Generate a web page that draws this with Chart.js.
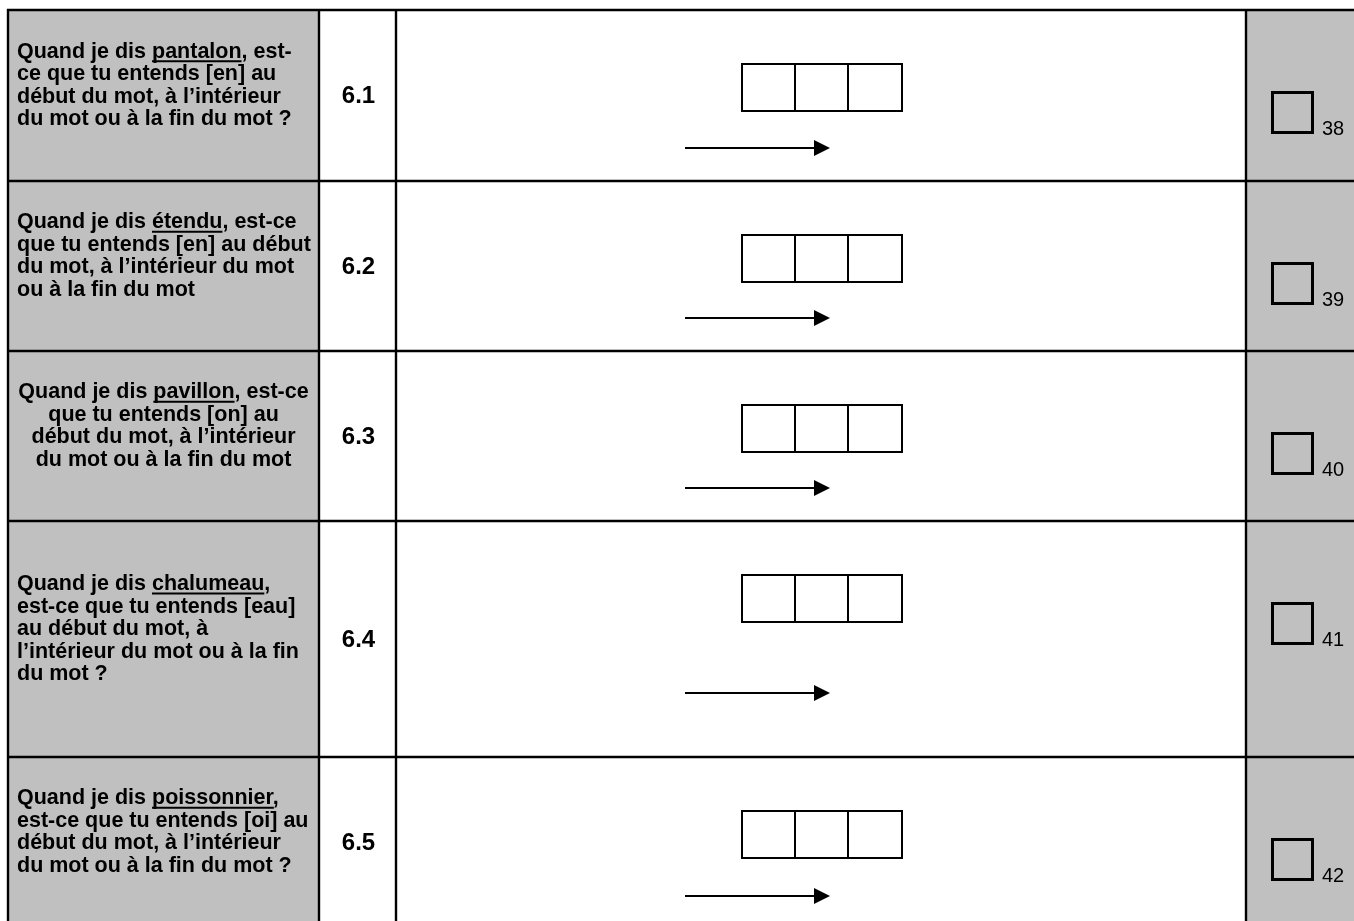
<!DOCTYPE html>
<html><head><meta charset="utf-8">
<script src="https://cdn.jsdelivr.net/npm/chart.js@4.4.1/dist/chart.umd.min.js"></script>
<style>html,body{margin:0;padding:0;background:#fff;overflow:hidden}canvas{display:block}</style>
</head><body>
<canvas id="c" width="1354" height="921"></canvas>
<script>
// ---- content ----
const items = ["6.1", "6.2", "6.3", "6.4", "6.5"];
const keywords = ["pantalon", "étendu", "pavillon", "chalumeau", "poissonnier"];
const questions = [
  ["Quand je dis pantalon, est-", "ce que tu entends [en] au", "début du mot, à l’intérieur", "du mot ou à la fin du mot ?"],
  ["Quand je dis étendu, est-ce", "que tu entends [en] au début", "du mot, à l’intérieur du mot", "ou à la fin du mot"],
  ["Quand je dis pavillon, est-ce", "que tu entends [on] au", "début du mot, à l’intérieur", "du mot ou à la fin du mot"],
  ["Quand je dis chalumeau,", "est-ce que tu entends [eau]", "au début du mot, à", "l’intérieur du mot ou à la fin", "du mot ?"],
  ["Quand je dis poissonnier,", "est-ce que tu entends [oi] au", "début du mot, à l’intérieur", "du mot ou à la fin du mot ?"]
];
const codes = ["38", "39", "40", "41", "42"];
const centeredText = [false, false, true, false, false];

// ---- layout (page units) ----
const rowEdges = [10, 181, 351, 521, 757, 927];
const colEdges = [8, 319, 396, 1246, 1356];
const arrowOffset = [138, 137, 137, 172, 139];
const GRAY = '#C0C0C0';
const QFONT = "bold 21.5px 'Liberation Sans', Arial, sans-serif";
const NFONT = "bold 24px 'Liberation Sans', Arial, sans-serif";
const CFONT = "20px 'Liberation Sans', Arial, sans-serif";
const LH = 22.5;

const formPlugin = {
  id: 'form',
  beforeDraw(chart) {
    const ctx = chart.ctx, sx = chart.scales.x, sy = chart.scales.y;
    const X = v => sx.getPixelForValue(v), Y = v => sy.getPixelForValue(v);
    ctx.save();
    ctx.fillStyle = '#fff';
    ctx.fillRect(0, 0, chart.width, chart.height);
    const nRows = items.length;
    // cell fills
    ctx.fillStyle = GRAY;
    ctx.fillRect(X(colEdges[0]), Y(rowEdges[0]), X(colEdges[1]) - X(colEdges[0]), Y(rowEdges[nRows]) - Y(rowEdges[0]));
    ctx.fillRect(X(colEdges[3]), Y(rowEdges[0]), X(colEdges[4]) - X(colEdges[3]), Y(rowEdges[nRows]) - Y(rowEdges[0]));
    // faint paragraph marks in question cells
    ctx.strokeStyle = '#d8d8d8';
    ctx.lineWidth = 1;
    // grid
    ctx.strokeStyle = '#000';
    ctx.lineWidth = 2.4;
    ctx.beginPath();
    rowEdges.forEach(r => { ctx.moveTo(X(colEdges[0]) - 1, Y(r)); ctx.lineTo(X(colEdges[4]), Y(r)); });
    colEdges.forEach(c => { ctx.moveTo(X(c), Y(rowEdges[0]) - 1); ctx.lineTo(X(c), Y(rowEdges[nRows]) + 1); });
    ctx.stroke();

    for (let i = 0; i < nRows; i++) {
      const top = rowEdges[i], bot = rowEdges[i + 1], mid = (top + bot) / 2;
      // question text
      const lines = questions[i];
      ctx.font = QFONT;
      ctx.fillStyle = '#000';
      ctx.textBaseline = 'alphabetic';
      const block = (lines.length + 1) * LH;
      const firstBase = mid - block / 2 + 18.5;
      lines.forEach((ln, k) => {
        const yb = Y(firstBase + k * LH);
        const w = ctx.measureText(ln).width;
        const x0 = centeredText[i] ? X((colEdges[0] + colEdges[1]) / 2) - w / 2 : X(17);
        ctx.textAlign = 'left';
        ctx.fillText(ln, x0, yb);
        const kw = keywords[i];
        const p = ln.indexOf(kw);
        if (k === 0 && p >= 0) {
          const xs = x0 + ctx.measureText(ln.slice(0, p)).width;
          const wk = ctx.measureText(kw).width;
          ctx.fillRect(xs, yb + 2.5, wk, 2);
        }
      });
      // item number
      ctx.font = NFONT;
      ctx.textAlign = 'center';
      ctx.textBaseline = 'middle';
      ctx.fillText(items[i], X((colEdges[1] + colEdges[2]) / 2 + 1), Y(mid + 1));
      // three boxes
      ctx.lineWidth = 2;
      ctx.strokeRect(X(742), Y(top + 54), X(902) - X(742), Y(top + 101) - Y(top + 54));
      ctx.beginPath();
      ctx.moveTo(X(795), Y(top + 54)); ctx.lineTo(X(795), Y(top + 101));
      ctx.moveTo(X(848), Y(top + 54)); ctx.lineTo(X(848), Y(top + 101));
      ctx.stroke();
      // arrow
      const ay = Y(top + arrowOffset[i]);
      ctx.lineWidth = 2;
      ctx.beginPath(); ctx.moveTo(X(685), ay); ctx.lineTo(X(816), ay); ctx.stroke();
      ctx.beginPath(); ctx.moveTo(X(814), ay - 8); ctx.lineTo(X(830), ay); ctx.lineTo(X(814), ay + 8); ctx.closePath(); ctx.fill();
      // checkbox
      ctx.lineWidth = 3;
      ctx.strokeRect(X(1272.5), Y(top + 82.5), 40, 40);
      ctx.font = CFONT;
      ctx.textAlign = 'left';
      ctx.textBaseline = 'alphabetic';
      ctx.fillText(codes[i], X(1322), Y(top + 124.5));
    }
    ctx.restore();
  }
};

new Chart(document.getElementById('c'), {
  type: 'scatter',
  data: { datasets: [] },
  options: {
    responsive: false,
    animation: false,
    devicePixelRatio: 1,
    layout: { padding: 0 },
    scales: {
      x: { type: 'linear', min: 0, max: 1354, display: false },
      y: { type: 'linear', min: 0, max: 921, reverse: true, display: false }
    },
    plugins: { legend: { display: false }, tooltip: { enabled: false } }
  },
  plugins: [formPlugin]
});
</script>
</body></html>
